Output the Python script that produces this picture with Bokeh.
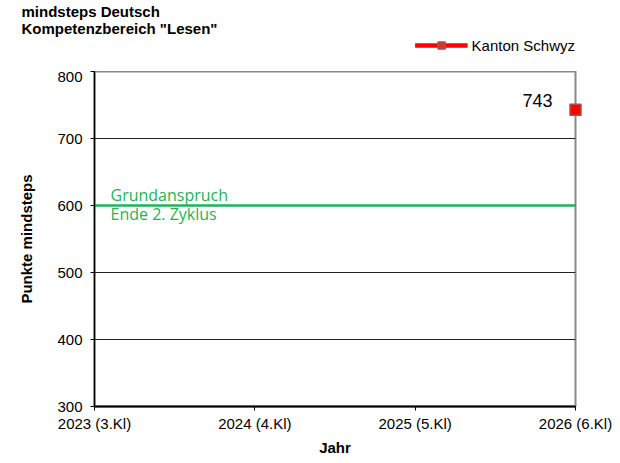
from bokeh.plotting import figure
from bokeh.layouts import column
from bokeh.models import (Range1d, FixedTicker, Label, Legend, LegendItem, ColumnDataSource)
from bokeh.embed import file_html
from bokeh.resources import INLINE

# ---- data ----
X_POS = [0, 1, 2, 3]
X_LABELS = ["2023 (3.Kl)", "2024 (4.Kl)", "2025 (5.Kl)", "2026 (6.Kl)"]
SCHWYZ = [None, None, None, 743]
Y_TICKS = [300, 400, 500, 600, 700, 800]
GRUNDANSPRUCH = 600
TITLE_LINES = ["mindsteps Deutsch", 'Kompetenzbereich "Lesen"']
SERIES_NAME = "Kanton Schwyz"
GA_LINES = ["Grundanspruch", "Ende 2. Zyklus"]

FONT = "Liberation Sans"
GREEN = "#1fb25a"
W = 620
H_TOP, H_MAIN = 71, 392

src = ColumnDataSource(data=dict(x=X_POS, y=[float("nan") if v is None else v for v in SCHWYZ]))

# ---------- header strip: title + legend ----------
top = figure(width=W, height=H_TOP, output_backend="svg", toolbar_location=None,
             x_axis_type=None, y_axis_type=None,
             x_range=Range1d(0, 1), y_range=Range1d(0, 1),
             min_border=0, min_border_top=6)
top.outline_line_color = None
top.background_fill_color = "white"
top.border_fill_color = "white"
top.xgrid.visible = False
top.ygrid.visible = False
top.title.text = "\n".join(TITLE_LINES)
top.title.text_font = FONT
top.title.text_font_size = "15px"
top.title.text_font_style = "bold"
top.title.text_color = "black"
top.title.align = "left"
top.title.offset = -73
top.title.standoff = 0

lr_top = top.line("x", "y", source=src, line_color="red", line_width=4.5)
sr_top = top.scatter("x", "y", source=src, marker="square", size=11, fill_color="#e03030",
                     line_color="#b84a4a", line_width=1.5)
legend = Legend(items=[LegendItem(label=SERIES_NAME, renderers=[lr_top, sr_top])],
                location="top_right", glyph_width=53, glyph_height=18, label_standoff=4,
                margin=0, padding=0, border_line_alpha=0, background_fill_alpha=0,
                label_text_font=FONT, label_text_font_size="15px", label_text_color="black")
top.add_layout(legend)

# ---------- main chart ----------
p = figure(width=W, height=H_MAIN, output_backend="svg", toolbar_location=None,
           x_range=Range1d(X_POS[0], X_POS[-1]), y_range=Range1d(Y_TICKS[0], Y_TICKS[-1]),
           min_border_left=94, min_border_right=W - 575, min_border_top=0, min_border_bottom=57)
p.background_fill_color = "white"
p.border_fill_color = "white"
p.outline_line_color = "#888888"
p.outline_line_width = 2

p.xaxis.ticker = FixedTicker(ticks=X_POS)
p.xaxis.major_label_overrides = {x: l for x, l in zip(X_POS, X_LABELS)}
p.yaxis.ticker = FixedTicker(ticks=Y_TICKS)
for ax in (p.xaxis, p.yaxis):
    ax.axis_line_color = "black"
    ax.axis_line_width = 1.5
    ax.major_tick_line_color = "black"
    ax.major_tick_out = 4
    ax.major_tick_in = 0
    ax.minor_tick_line_color = None
    ax.major_label_text_font = FONT
    ax.major_label_text_font_size = "15px"
    ax.major_label_text_color = "black"
    ax.axis_label_text_font = FONT
    ax.axis_label_text_font_size = "15px"
    ax.axis_label_text_font_style = "bold"
    ax.axis_label_text_color = "black"
p.xaxis.axis_line_width = 2
p.xaxis.major_label_standoff = 4
p.yaxis.major_label_standoff = 8
p.xaxis.axis_label = "Jahr"
p.yaxis.axis_label = "Punkte mindsteps"
p.xaxis.axis_label_standoff = 4
p.yaxis.axis_label_standoff = 19

p.xgrid.grid_line_color = None
p.ygrid.grid_line_color = "#222222"
p.ygrid.grid_line_width = 1

# Grundanspruch line
p.line(x=[X_POS[0], X_POS[-1]], y=[GRUNDANSPRUCH, GRUNDANSPRUCH], line_color=GREEN, line_width=2.5)
p.add_layout(Label(x=X_POS[0], y=GRUNDANSPRUCH, x_offset=16, y_offset=11, text=GA_LINES[0],
                   text_font="Open Sans", text_font_size="16px", text_color=GREEN,
                   text_baseline="middle"))
p.add_layout(Label(x=X_POS[0], y=GRUNDANSPRUCH, x_offset=16, y_offset=-8, text=GA_LINES[1],
                   text_font="Open Sans", text_font_size="16px", text_color=GREEN,
                   text_baseline="middle"))

# series
p.line("x", "y", source=src, line_color="red", line_width=4.5, level="overlay")
p.scatter("x", "y", source=src, marker="square", size=11, fill_color="red",
          line_color="#b84a4a", line_width=1.5, level="overlay")
for xv, yv in zip(X_POS, SCHWYZ):
    if yv is not None:
        p.add_layout(Label(x=xv, y=yv, x_offset=-23, y_offset=9, text=str(yv), text_align="right",
                           text_baseline="middle", text_font=FONT, text_font_size="18px",
                           text_color="black"))

layout = column(top, p, spacing=0)
open("out.html", "w").write(file_html(layout, INLINE))
